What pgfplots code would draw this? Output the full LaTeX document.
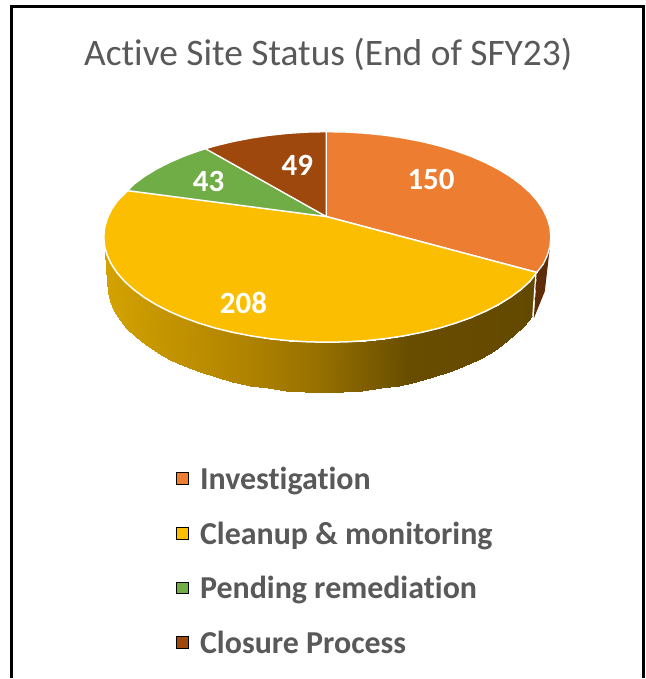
\documentclass[border=0pt]{standalone}
\usepackage{pgfplots}
\pgfplotsset{compat=1.18}
\usepackage{fontspec}
\setmainfont{Carlito}[Ligatures=NoCommon]
\definecolor{cOrange}{RGB}{237,125,49}
\definecolor{cYellow}{RGB}{251,190,0}
\definecolor{cGreen}{RGB}{112,173,71}
\definecolor{cBrown}{RGB}{158,72,14}
\definecolor{cBrownDark}{RGB}{95,44,8}
\definecolor{cText}{RGB}{89,89,89}
\pgfplotsset{colormap={side}{rgb255(0pt)=(212,162,0) rgb255(146pt)=(175,130,0) rgb255(216pt)=(150,112,0) rgb255(306pt)=(104,77,0) rgb255(434pt)=(99,72,0)}}
\begin{document}
\begin{tikzpicture}
\begin{axis}[
  scale only axis, width=647pt, height=679pt,
  xmin=0, xmax=647, ymin=0, ymax=679, y dir=reverse,
  hide axis, clip=false,
  every node/.style={inner sep=0pt, outer sep=0pt},
]
% page
\addplot[fill=white, draw=none, forget plot] coordinates {(0,0)(647,0)(647,679)(0,679)} -- cycle;
% frame
\addplot[black, line width=3pt, forget plot] coordinates {(11.5,679)(11.5,6.5)(645,6.5)(645,679)};
% side walls
\addplot[surf, shader=interp, colormap name=side, mesh/rows=2, point meta=x, point meta min=104, point meta max=538, forget plot] table {
x y
104 237.5
104.8 246.7
107.4 255.8
111.6 264.8
117.5 273.6
125 282.1
134 290.2
144.5 298
156.4 305.3
169.6 312.1
184 318.3
199.5 323.9
216 328.9
233.3 333.1
251.4 336.6
270 339.4
289.1 341.4
308.5 342.6
328 343
347.5 342.6
366.9 341.4
386 339.4
404.6 336.6
422.7 333.1
440 328.9
456.5 323.9
472 318.3
486.4 312.1
499.6 305.3
511.5 298
522 290.2
531 282.1
537.5 273.6
107 283
107.8 292.6
110.3 302.1
114.4 311.5
120.1 320.6
127.4 329.5
136.2 338
146.4 346.1
158 353.7
170.8 360.8
184.9 367.3
200 373.1
216 378.3
232.9 382.7
250.4 386.4
268.6 389.3
287.1 391.7
306 393
325 393.5
344 393
362.9 391.7
381.4 389.3
399.6 386.4
417.1 382.7
434 378.3
450 373.1
465.1 367.3
479.2 360.8
492 353.7
503.6 346.1
515 336
525 327
533 317
};
\addplot[fill=cBrownDark, draw=none, forget plot] coordinates {(538,274)(550,250)(552,240)(546,292)(535,319)} -- cycle;
\addplot[white, line width=1.2pt, forget plot] coordinates {(537,275)(534,317)};
% top wedges
\addplot[fill=cOrange, draw=white, line width=1.3pt, line join=round, forget plot] coordinates {
(327,217)(327,132)(347.5,132.4)(366.9,133.6)(386,135.6)(404.6,138.4)(422.7,141.9)(440,146.1)(456.5,151.1)(472,156.7)(486.4,162.9)(499.6,169.7)(511.5,177)(522,184.8)(531,192.9)(538.5,201.4)(544.4,210.2)(548.6,219.2)(551.2,228.3)(552,237.5)(551.2,246.7)(548.6,255.8)(544.4,264.8)(538,273)} -- cycle;
\addplot[fill=cYellow, draw=white, line width=1.5pt, line join=round, forget plot] coordinates {
(327,217)(538,273)(531,282.1)(522,290.2)(511.5,298)(499.6,305.3)(486.4,312.1)(472,318.3)(456.5,323.9)(440,328.9)(422.7,333.1)(404.6,336.6)(386,339.4)(366.9,341.4)(347.5,342.6)(328,343)(308.5,342.6)(289.1,341.4)(270,339.4)(251.4,336.6)(233.3,333.1)(216,328.9)(199.5,323.9)(184,318.3)(169.6,312.1)(156.4,305.3)(144.5,298)(134,290.2)(125,282.1)(117.5,273.6)(111.6,264.8)(107.4,255.8)(104.8,246.7)(104,237.5)(104.8,228.3)(107.4,219.2)(111.6,210.2)(117.5,201.4)(128,191)} -- cycle;
\addplot[fill=cGreen, draw=white, line width=1.3pt, line join=round, forget plot] coordinates {
(327,217)(128,191)(134,184.8)(144.5,177)(156.4,169.7)(169.6,162.9)(184,156.7)(199.5,151.1)(206,149)} -- cycle;
\addplot[fill=cBrown, draw=white, line width=1.3pt, line join=round, forget plot] coordinates {
(327,217)(206,149)(216,146.1)(233.3,141.9)(251.4,138.4)(270,135.6)(289.1,133.6)(308.5,132.4)(327,132)} -- cycle;
% legend markers
\addplot[only marks, mark=square*, mark size=6pt, mark options={fill=cOrange, draw=none}, forget plot] coordinates {(183,479.5)};
\addplot[only marks, mark=square*, mark size=6pt, mark options={fill=cYellow, draw=none}, forget plot] coordinates {(183,534.5)};
\addplot[only marks, mark=square*, mark size=6pt, mark options={fill=cGreen, draw=none}, forget plot] coordinates {(183,589)};
\addplot[only marks, mark=square*, mark size=6pt, mark options={fill=cBrown, draw=none}, forget plot] coordinates {(183,643.5)};
% texts
\node[anchor=base, text=cText, font=\fontsize{37.5}{44}\selectfont] at (axis cs:329,66) {Active Site Status (End of SFY23)};
\node[anchor=center, text=white, font=\fontsize{31}{36}\selectfont\bfseries] at (axis cs:432,180) {150};
\node[anchor=center, text=white, font=\fontsize{31}{36}\selectfont\bfseries] at (axis cs:244,304) {208};
\node[anchor=center, text=white, font=\fontsize{31}{36}\selectfont\bfseries] at (axis cs:209,182) {43};
\node[anchor=center, text=white, font=\fontsize{31}{36}\selectfont\bfseries] at (axis cs:298,166) {49};
\node[anchor=base west, text=cText, font=\fontsize{32}{36}\selectfont\bfseries] at (axis cs:197,490.5) {Investigation};
\node[anchor=base west, text=cText, font=\fontsize{32}{36}\selectfont\bfseries] at (axis cs:197,545.5) {Cleanup \& monitoring};
\node[anchor=base west, text=cText, font=\fontsize{32}{36}\selectfont\bfseries] at (axis cs:197,599.5) {Pending remediation};
\node[anchor=base west, text=cText, font=\fontsize{32}{36}\selectfont\bfseries] at (axis cs:197,654.5) {Closure Process};
\end{axis}
\end{tikzpicture}
\end{document}
